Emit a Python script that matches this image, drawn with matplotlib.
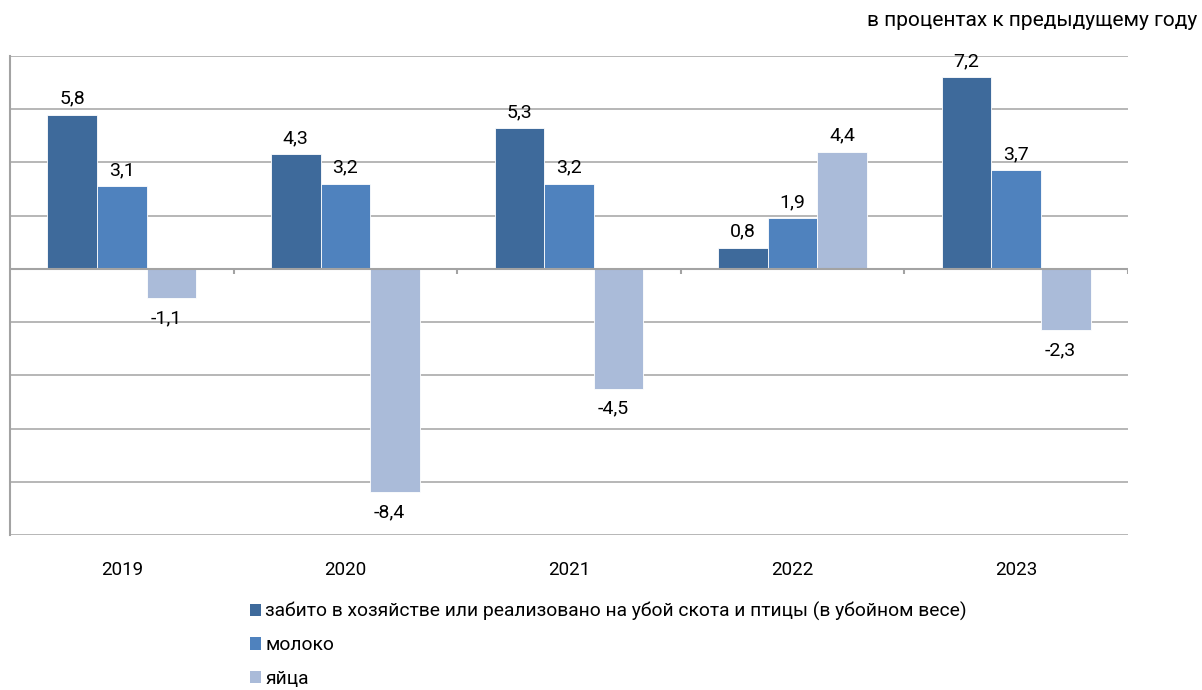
import matplotlib.pyplot as plt
import numpy as np
from matplotlib.patches import Patch

plt.rcParams["font.family"] = ["Roboto", "DejaVu Sans"]

years = ["2019", "2020", "2021", "2022", "2023"]
slaughter = [5.8, 4.3, 5.3, 0.8, 7.2]
milk = [3.1, 3.2, 3.2, 1.9, 3.7]
eggs = [-1.1, -8.4, -4.5, 4.4, -2.3]

series_names = [
    "забито в хозяйстве или реализовано на убой скота и птицы (в убойном весе)",
    "молоко",
    "яйца",
]
colors = ["#3E6A9B", "#4F82BE", "#AABBD9"]

fig = plt.figure(figsize=(12.02, 6.9), dpi=100)
ax = fig.add_axes([10 / 1202, 1 - 535 / 690, 1118 / 1202, 479 / 690])

grid_color = "#A3A3A3"
x = np.arange(len(years))
width = 0.222
for i, (vals, c) in enumerate(zip([slaughter, milk, eggs], colors)):
    pos = x + (i - 1) * width
    ax.bar(pos, vals, width, color=c, edgecolor="white", linewidth=0.6, zorder=3)
    for px, v in zip(pos, vals):
        txt = f"{v:.1f}".replace(".", ",")
        if v >= 0:
            ax.annotate(txt, (px, v), xytext=(0, 5), textcoords="offset points",
                        ha="center", va="bottom", fontsize=14)
        else:
            ax.annotate(txt, (px, v), xytext=(-4, -8), textcoords="offset points",
                        ha="center", va="top", fontsize=14)

ax.set_xlim(-0.5, len(years) - 0.5)
ax.set_ylim(-10, 8)
ax.set_yticks(np.arange(-10, 9, 2))
ax.yaxis.grid(True, color=grid_color, linewidth=1.1, zorder=0)
ax.tick_params(axis="y", left=False, labelleft=False)
ax.set_xticks(x)
ax.set_xticklabels(years, fontsize=13.5)
ax.tick_params(axis="x", bottom=False, pad=15)

for s in ["top", "right", "bottom"]:
    ax.spines[s].set_visible(False)
ax.spines["left"].set_color(grid_color)
ax.spines["left"].set_linewidth(1.5)

# zero axis with category boundary ticks
ax.axhline(0, color=grid_color, linewidth=1.5, zorder=4)
bounds = np.arange(-0.5, len(years), 1.0)
ax.vlines(bounds[1:], -0.2, 0, color=grid_color, linewidth=1.5, zorder=4)

fig.text(1197 / 1202, 1 - 20 / 690, "в процентах к предыдущему году",
         ha="right", va="center", fontsize=15)

handles = [Patch(facecolor=c, edgecolor="none") for c in colors]
fig.legend(handles, series_names, loc="upper left",
           bbox_to_anchor=(242 / 1202, 1 - 594 / 690), frameon=False,
           fontsize=13.9, handlelength=0.6, handleheight=0.6, handletextpad=0.2,
           labelspacing=0.8, borderaxespad=0)

fig.savefig("out.png", dpi=100)
